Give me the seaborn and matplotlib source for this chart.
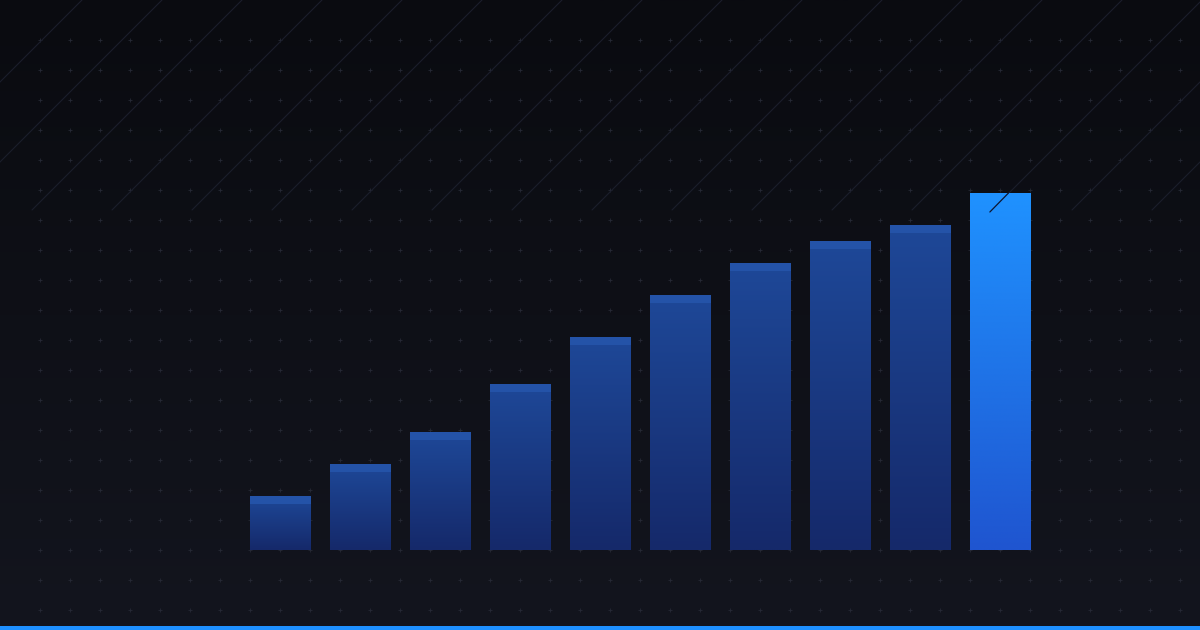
import numpy as np
import pandas as pd
import matplotlib.pyplot as plt
import seaborn as sns
from matplotlib.colors import LinearSegmentedColormap

# dados das barras (altura relativa)
categorias = ["1", "2", "3", "4", "5", "6", "7", "8", "9", "10"]
valores = [54, 86, 118, 166, 213, 255, 287, 309, 325, 357]
destaque = "10"

df = pd.DataFrame({"categoria": categorias, "valor": valores})

sns.set_theme(style="dark")

fig = plt.figure(figsize=(12, 6.3), dpi=100)
fig.patch.set_facecolor("#0b0c12")

# fundo em pixels
bg = fig.add_axes([0, 0, 1, 1], zorder=0)
bg.set_xlim(0, 1200)
bg.set_ylim(630, 0)
bg.axis("off")
grad = np.linspace(0, 1, 256).reshape(-1, 1)
cmap_bg = LinearSegmentedColormap.from_list("bg", ["#0a0b10", "#13151e"])
bg.imshow(grad, extent=[0, 1200, 630, 0], cmap=cmap_bg, aspect="auto", zorder=0)

# grade de pontos
gx, gy = np.meshgrid(np.arange(40, 1200, 30), np.arange(40, 630, 30))
bg.scatter(gx.ravel(), gy.ravel(), marker="+", s=6, linewidths=0.6,
           color="#262935", zorder=1)

# linhas diagonais
for x0 in range(-128, 1500, 80):
    bg.plot([x0, x0 + 210], [210, 0], color="#1b1e2c", lw=0.8, zorder=2)

# barras
ax = fig.add_axes([0, 0, 1, 1], zorder=1)
ax.patch.set_alpha(0)
sns.barplot(data=df, x="categoria", y="valor", ax=ax, width=61 / 80,
            color="#1e4696", saturation=1, linewidth=0, edgecolor="none")
ax.set_xlim(-280.5 / 80, (1200 - 280.5) / 80)
ax.set_ylim(-80, 550)
ax.axis("off")

cmap_bar = LinearSegmentedColormap.from_list("bar", ["#1e4898", "#15296a"])
cmap_top = LinearSegmentedColormap.from_list("top", ["#1f92ff", "#1f55d0"])
for cat, patch in zip(categorias, ax.patches):
    x0, w, h = patch.get_x(), patch.get_width(), patch.get_height()
    cm = cmap_top if cat == destaque else cmap_bar
    img = ax.imshow(grad, extent=[x0, x0 + w, 0, h], cmap=cm,
                    aspect="auto", origin="upper", zorder=3)
    img.set_clip_path(patch)
    if cat != destaque:
        ax.fill_between([x0, x0 + w], h - 8, h, color="#2453a8", lw=0, zorder=4)

# linha diagonal sobre a barra em destaque
i = categorias.index(destaque)
ax.plot([i - 0.133, i + 0.1], [550 - 212, 550 - 193], color="#0d1530", lw=0.9, zorder=5)

# borda inferior
bg2 = fig.add_axes([0, 0, 1, 1], zorder=2)
bg2.set_xlim(0, 1200)
bg2.set_ylim(630, 0)
bg2.axis("off")
bg2.fill_between([0, 1200], 626, 630, color="#1e90ff", lw=0)

fig.savefig("out.png", dpi=100, facecolor=fig.get_facecolor())
